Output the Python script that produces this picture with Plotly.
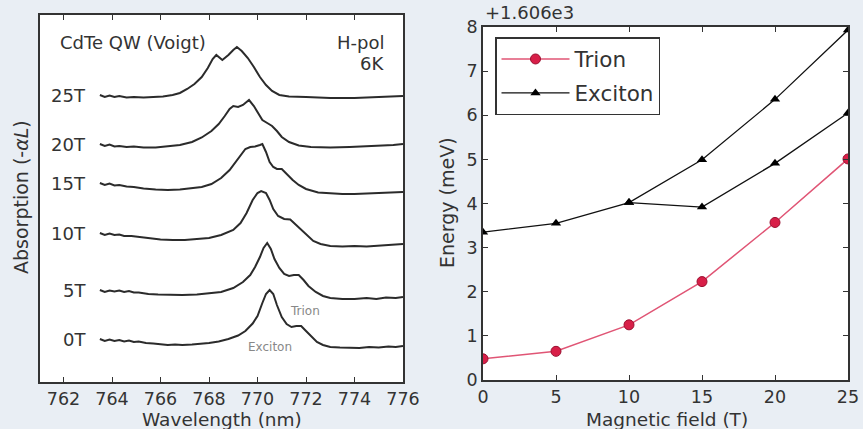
import plotly.graph_objects as go

# ---------------- Left panel: absorption spectra, offset per field ----------------
fields = ["0T", "5T", "10T", "15T", "20T", "25T"]

wl_0T = [763.5, 763.7, 763.9, 764.1, 764.3, 764.5, 764.7, 764.9, 765.1, 765.4, 765.7, 766.0,
         766.3, 766.6, 766.9, 767.3, 767.7, 768.0, 768.4, 768.8, 769.2, 769.5, 769.8, 770.0,
         770.2, 770.35, 770.5, 770.65, 770.8, 771.0, 771.2, 771.4, 771.6, 771.8, 772.0, 772.2,
         772.45, 772.7, 773.0, 773.4, 773.8, 774.2, 774.6, 775.0, 775.4, 775.7, 776.0]
abs_0T = [43, 41, 42.5, 41, 42, 40.5, 41.5, 40, 40.5, 39, 38.5, 37.5,
          37, 37.5, 37, 37.5, 38, 39, 40.5, 43, 46.5, 51, 58.5, 66,
          79, 88, 92, 88, 77, 65, 58, 55, 56, 56, 51, 46,
          40, 37, 35, 34.5, 34, 34, 35, 34.5, 35.5, 35, 36]

wl_5T = [763.5, 763.7, 763.9, 764.1, 764.3, 764.5, 764.7, 764.9, 765.1, 765.5, 765.9, 766.3,
         766.9, 767.5, 768.0, 768.5, 769.0, 769.4, 769.7, 769.9, 770.1, 770.25, 770.4, 770.55,
         770.7, 770.9, 771.1, 771.3, 771.5, 771.7, 771.9, 772.1, 772.4, 772.7, 773.0, 773.5,
         774.0, 774.5, 774.9, 775.3, 775.7, 776.0]
abs_5T = [92, 90, 91.5, 90.5, 91.5, 90, 91, 89.5, 89.5, 88, 87.5, 87,
          87, 87.5, 88.5, 90, 94, 100, 107, 115, 125, 134, 139, 133,
          123, 114, 108, 106, 107, 107, 102, 96, 90, 86, 84, 83,
          83, 84, 83, 84.5, 84, 85]

wl_10T = [763.5, 763.7, 763.9, 764.1, 764.3, 764.5, 764.8, 765.1, 765.5, 766.0, 766.5, 767.0,
          767.5, 768.0, 768.5, 769.0, 769.3, 769.55, 769.8, 770.0, 770.15, 770.35, 770.5, 770.65,
          770.85, 771.1, 771.35, 771.55, 771.8, 772.05, 772.3, 772.6, 773.0, 773.5, 774.0, 774.5,
          775.0, 775.5, 776.0]
abs_10T = [149, 147, 148.5, 147, 147.5, 146, 146, 145, 144, 142.5, 142, 142,
           143, 144, 147, 152, 159, 169, 182, 189, 191, 189, 182, 173,
           166, 163, 162.5, 158, 152, 146, 141, 138, 136, 135.5, 136, 135.5,
           136.5, 137, 138]

wl_15T = [763.5, 763.7, 763.9, 764.1, 764.3, 764.6, 764.9, 765.3, 765.8, 766.3, 766.8, 767.3,
          767.7, 768.1, 768.5, 768.85, 769.1, 769.3, 769.5, 769.7, 769.9, 770.1, 770.2, 770.35,
          770.5, 770.65, 770.8, 771.0, 771.2, 771.45, 771.7, 772.0, 772.5, 773.0, 773.5, 774.0,
          774.5, 775.0, 775.5, 776.0]
abs_15T = [199, 197, 198.5, 196.5, 197, 195.5, 195, 193.5, 192.5, 192, 192.5, 193.5,
           195, 198, 204, 212, 220, 227, 233, 235, 235.5, 237, 238, 230,
           220, 215, 213, 213, 208, 202, 197, 193, 189.5, 188.5, 188, 188,
           188.5, 189, 189.5, 190]

wl_20T = [763.5, 763.7, 763.9, 764.1, 764.3, 764.6, 764.9, 765.3, 765.8, 766.3, 766.8, 767.3,
          767.7, 768.1, 768.4, 768.65, 768.85, 769.0, 769.2, 769.4, 769.65, 769.85, 770.0, 770.2,
          770.4, 770.6, 770.8, 771.0, 771.3, 771.7, 772.2, 773.0, 773.8, 774.5, 775.2, 775.6,
          776.0]
abs_20T = [238, 236, 237.5, 235.5, 236, 235, 235.5, 234.5, 234.5, 235.5, 237, 240,
           244.5, 251, 258, 266, 273, 276, 275, 277, 282, 276, 270, 262,
           259, 256, 251, 245, 240, 236.5, 235, 234.5, 235, 235.5, 236.5, 237,
           238]

wl_25T = [763.5, 763.7, 763.9, 764.1, 764.3, 764.6, 764.9, 765.3, 765.7, 766.1, 766.5, 766.8,
          767.1, 767.4, 767.7, 767.95, 768.15, 768.3, 768.55, 768.8, 769.0, 769.15, 769.35, 769.6,
          769.85, 770.1, 770.35, 770.6, 770.9, 771.3, 772.0, 773.0, 774.0, 774.8, 775.4, 776.0]
abs_25T = [287, 285, 286.5, 285, 286, 284.5, 285, 284.5, 285, 285.5, 287, 289,
           293, 298, 305, 314, 323, 327, 322, 327, 332, 335, 331, 324,
           315, 305, 297, 291, 287, 285.5, 285, 284, 284, 284.5, 285.5, 286]

spectra = [(wl_0T, abs_0T), (wl_5T, abs_5T), (wl_10T, abs_10T),
           (wl_15T, abs_15T), (wl_20T, abs_20T), (wl_25T, abs_25T)]

wl_ticks = [762, 764, 766, 768, 770, 772, 774, 776]

# ---------------- Right panel: peak energies vs field ----------------
field_T = [0, 5, 10, 15, 20, 25]
energy_offset = 1606.0
trion_meV = [1606.48, 1606.65, 1607.25, 1608.23, 1609.57, 1611.01]
exciton_meV = [1609.35, 1609.55, 1610.02, 1610.99, 1612.36, 1613.93]
field_T_branch = [10, 15, 20, 25]
exciton_branch_meV = [1610.02, 1609.92, 1610.91, 1612.05]
energy_ticks = [0, 1, 2, 3, 4, 5, 6, 7, 8]
field_ticks = [0, 5, 10, 15, 20, 25]

FONT = "DejaVu Sans"
INK = "#333333"
W, H = 863, 429

fig = go.Figure()

for name, (wl, ab) in zip(fields, spectra):
    fig.add_trace(go.Scatter(x=wl, y=ab, mode="lines", xaxis="x", yaxis="y",
                             line=dict(color="#2b2b2b", width=2), showlegend=False,
                             hoverinfo="skip"))
    fig.add_annotation(x=763.0, y=ab[0], xref="x", yref="y", text=name,
                       showarrow=False, xanchor="right", yanchor="middle",
                       font=dict(family=FONT, size=18, color=INK))

fig.add_trace(go.Scatter(x=field_T, y=trion_meV, mode="lines+markers", name="Trion",
                         legendgroup="trion", xaxis="x2", yaxis="y2",
                         line=dict(color="#e05575", width=1.5),
                         marker=dict(symbol="circle", size=10, color="#d81f48",
                                     line=dict(color="#9a1030", width=1))))
fig.add_trace(go.Scatter(x=field_T, y=exciton_meV, mode="lines+markers", name="Exciton",
                         legendgroup="exciton", xaxis="x2", yaxis="y2",
                         line=dict(color="#111111", width=1.3),
                         marker=dict(symbol="triangle-up", size=9, color="#000000")))
fig.add_trace(go.Scatter(x=field_T_branch, y=exciton_branch_meV, mode="lines+markers",
                         name="Exciton", legendgroup="exciton", showlegend=False,
                         xaxis="x2", yaxis="y2",
                         line=dict(color="#111111", width=1.3),
                         marker=dict(symbol="triangle-up", size=9, color="#000000")))

def px_x(p):
    return p / W

def px_y(p):
    return 1 - p / H

axis_common = dict(showline=True, linecolor=INK, linewidth=1.5,
                   showgrid=False, zeroline=False, automargin=False,
                   tickfont=dict(family=FONT, size=17.5, color=INK))

fig.update_layout(
    width=W, height=H,
    margin=dict(l=0, r=0, t=0, b=0, autoexpand=False),
    paper_bgcolor="#e9eef4",
    plot_bgcolor="#ffffff",
    xaxis=dict(domain=[px_x(40), px_x(403)], range=[761.03, 776.0],
               tickvals=wl_ticks, ticks="inside", ticklen=5, tickcolor=INK,
               mirror="ticks", anchor="y", **axis_common),
    yaxis=dict(domain=[px_y(382), px_y(15)], range=[0, 367],
               showticklabels=False, ticks="", mirror=True, anchor="x", **axis_common),
    xaxis2=dict(domain=[px_x(483), px_x(848)], range=[0, 25],
                tickvals=field_ticks, ticks="inside", ticklen=5, tickcolor=INK,
                mirror="ticks", anchor="y2", **axis_common),
    yaxis2=dict(domain=[px_y(380), px_y(27)],
                range=[energy_offset + energy_ticks[0], energy_offset + energy_ticks[-1]],
                tickvals=[energy_offset + t for t in energy_ticks],
                ticktext=[str(t) for t in energy_ticks],
                ticks="inside", ticklen=5, tickcolor=INK,
                mirror="ticks", anchor="x2", **axis_common),
    legend=dict(x=px_x(495), y=px_y(37), xanchor="left", yanchor="top",
                bgcolor="#ffffff", bordercolor=INK, borderwidth=1.5,
                font=dict(family=FONT, size=21.5, color=INK),
                itemwidth=68, tracegroupgap=3),
    showlegend=True,
)

def note(text, x, y, size, xanchor="center", yanchor="middle", angle=0, color=INK):
    fig.add_annotation(x=x, y=y, xref="paper", yref="paper", text=text, showarrow=False,
                       xanchor=xanchor, yanchor=yanchor, textangle=angle,
                       font=dict(family=FONT, size=size, color=color))

# panel labels and axis titles
note("CdTe QW (Voigt)", px_x(58), px_y(42), 18, xanchor="left")
note("H-pol", px_x(386), px_y(42), 18, xanchor="right")
note("6K", px_x(386), px_y(63), 18, xanchor="right")
note("Wavelength (nm)", px_x(222), px_y(419), 18.5)
note("Absorption (-<i>αL</i>)", px_x(21), px_y(197), 19, angle=-90)
note("Energy (meV)", px_x(447), px_y(203), 19, angle=-90)
note("Magnetic field (T)", px_x(667), px_y(419), 18.5)
note("+1.606e3", px_x(483), px_y(13), 18, xanchor="left")

# peak labels on the 0T spectrum
fig.add_annotation(x=771.95, y=71, xref="x", yref="y", text="Trion", showarrow=False,
                   font=dict(family=FONT, size=12, color="#888888"))
fig.add_annotation(x=770.5, y=35, xref="x", yref="y", text="Exciton", showarrow=False,
                   font=dict(family=FONT, size=12, color="#888888"))

fig.write_html("out.html")
